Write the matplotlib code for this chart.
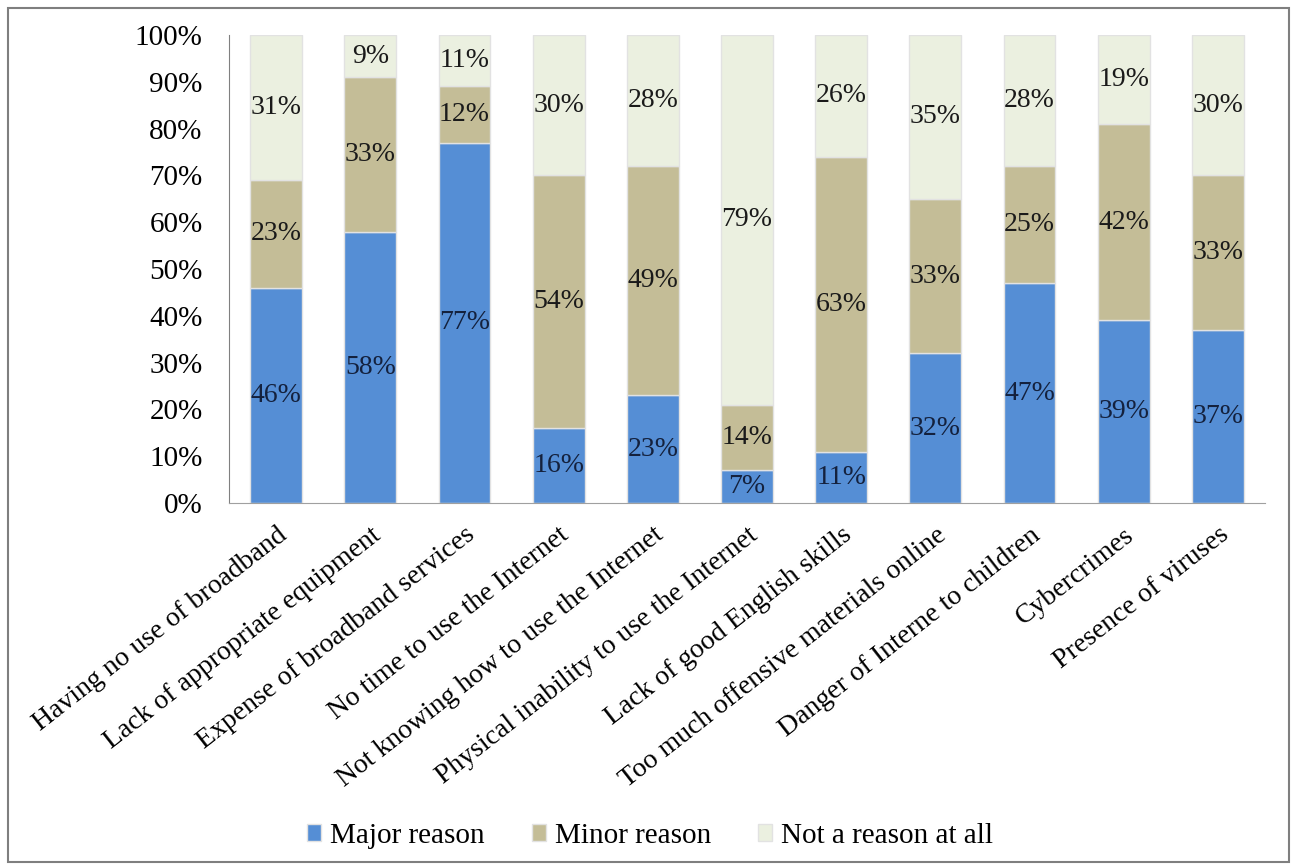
import matplotlib
matplotlib.use("Agg")
import matplotlib.pyplot as plt
from matplotlib.patches import Rectangle
import numpy as np

categories = [
    "Having no use of broadband",
    "Lack of appropriate equipment",
    "Expense of broadband services",
    "No time to use the Internet",
    "Not knowing how to use the Internet",
    "Physical inability to use the Internet",
    "Lack of good English skills",
    "Too much offensive materials online",
    "Danger of Interne to children",
    "Cybercrimes",
    "Presence of viruses",
]
major = [46, 58, 77, 16, 23, 7, 11, 32, 47, 39, 37]
minor = [23, 33, 12, 54, 49, 14, 63, 33, 25, 42, 33]
not_reason = [31, 9, 11, 30, 28, 79, 26, 35, 28, 19, 30]
series_names = ["Major reason", "Minor reason", "Not a reason at all"]
yticks = [0, 10, 20, 30, 40, 50, 60, 70, 80, 90, 100]

colors = ["#558ED5", "#C4BD97", "#EBF0E0"]
text_colors = ["#14213D", "#1a1a1a", "#1a1a1a"]

plt.rcParams['font.family'] = ['Liberation Serif', 'DejaVu Serif']

fig = plt.figure(figsize=(12.92, 8.64), dpi=100)
W, H = 1292, 864
ax = fig.add_axes([229 / W, 1 - 503 / H, (1265 - 229) / W, (503 - 35) / H])

x = np.arange(len(categories))
bottom = np.zeros(len(categories))
for vals, col, tc, name in zip([major, minor, not_reason], colors, text_colors, series_names):
    vals = np.array(vals, dtype=float)
    ax.bar(x, vals, width=0.55, bottom=bottom, color=col, edgecolor="#E2E2E2",
           linewidth=1.0, label=name, zorder=2)
    for xi, b, v in zip(x, bottom, vals):
        ax.text(xi, b + v / 2, f"{int(v)}%", ha="center", va="center",
                fontsize=20, color=tc, zorder=3)
    bottom += vals

ax.set_xlim(-0.5, len(categories) - 0.5)
ax.set_ylim(0, 100)
ax.set_yticks(yticks)
ax.set_yticklabels([f"{t}%" for t in yticks], fontsize=21)
ax.tick_params(axis="y", length=0, pad=19)
ax.set_xticks(x)
ax.set_xticklabels(categories, rotation=38, ha="right", rotation_mode="anchor",
                   fontsize=20)
ax.tick_params(axis="x", length=0, pad=14)
for s in ["top", "right"]:
    ax.spines[s].set_visible(False)
ax.spines["left"].set_color("#808080")
ax.spines["bottom"].set_color("#A0A0A0")

leg = fig.legend(loc="center", bbox_to_anchor=(650 / W, 1 - 836 / H), ncol=3,
                 frameon=False, fontsize=21, handlelength=0.5, handleheight=0.5,
                 handletextpad=0.3, columnspacing=1.6)

fig.patches.append(Rectangle((8 / W, 2 / H), (1289 - 8) / W, (856 - 2) / H,
                             transform=fig.transFigure, fill=False,
                             edgecolor="#7f7f7f", linewidth=1.5))

fig.savefig("out.png", dpi=100)
